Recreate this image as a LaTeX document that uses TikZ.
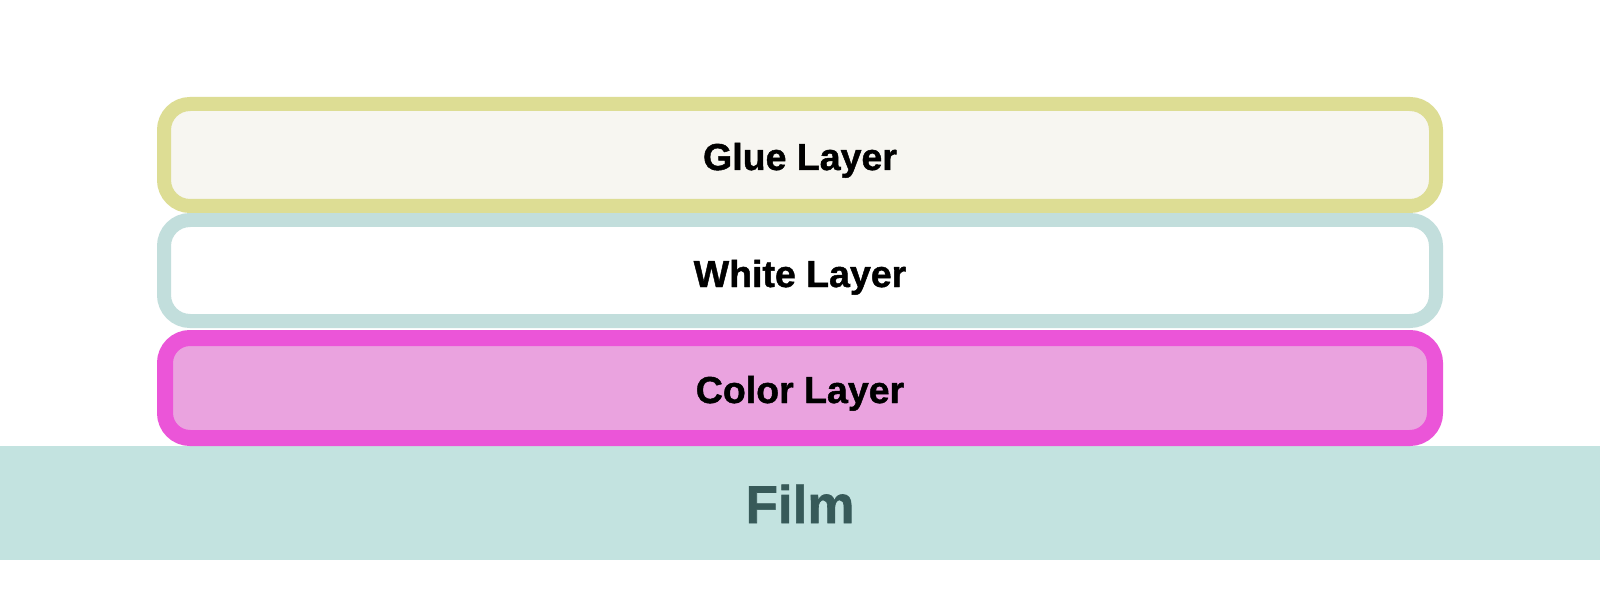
\documentclass[tikz,border=0pt]{standalone}
\usepackage{fontspec}
\setmainfont{Liberation Sans}
\newfontfamily\heavyfont[BoldFeatures={FakeBold=1.2}]{Liberation Sans}
\definecolor{gluestroke}{HTML}{DDDD94}
\definecolor{gluefill}{HTML}{F7F6F1}
\definecolor{whitestroke}{HTML}{C2DEDC}
\definecolor{colorstroke}{HTML}{EB55D8}
\definecolor{colorfill}{HTML}{EAA3DF}
\definecolor{filmfill}{HTML}{C3E3E0}
\definecolor{filmtext}{HTML}{375A59}
\tikzset{
  layerbox/.style={rectangle, rounded corners=26pt, inner sep=0pt, minimum width=1272pt},
  layertext/.style={anchor=base, inner sep=0pt, font=\fontsize{37.5}{40}\heavyfont\bfseries, text=black},
  filmtextstyle/.style={anchor=base, inner sep=0pt, font=\fontsize{53}{56}\heavyfont\bfseries, text=filmtext}
}
\begin{document}
\begin{tikzpicture}[x=1pt,y=1pt]
\useasboundingbox (0,0) rectangle (1600,606);
\fill[white] (0,0) rectangle (1600,606);
% film
\node[rectangle, fill=filmfill, inner sep=0pt, minimum width=1600pt, minimum height=114pt] (film) at (800,103) {};
\node[filmtextstyle] (filmlabel) at (800,83) {Film};
% color layer
\node[layerbox, draw=colorstroke, fill=colorfill, line width=16pt, rounded corners=25pt, minimum width=1270pt, minimum height=100pt] (color) at (800,218) {};
\node[layertext] (colorlabel) at (800,203) {Color Layer};
% white layer
\node[layerbox, draw=whitestroke, fill=white, line width=14pt, minimum height=101pt] (white) at (800,335.5) {};
\node[layertext] (whitelabel) at (800,319) {White Layer};
% glue layer
\node[layerbox, draw=gluestroke, fill=gluefill, line width=14pt, minimum height=102pt] (glue) at (800,451) {};
\node[layertext] (gluelabel) at (800,436) {Glue Layer};
\end{tikzpicture}
\end{document}
